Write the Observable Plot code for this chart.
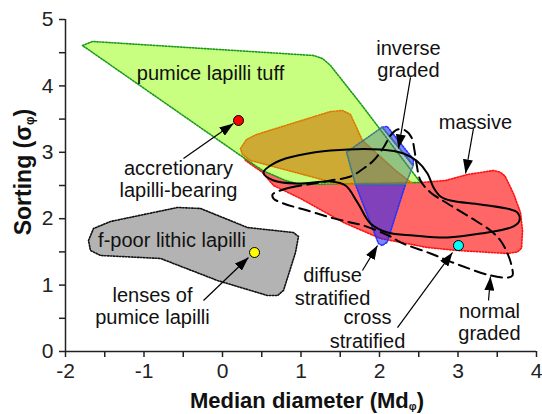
<!DOCTYPE html>
<html><head><meta charset="utf-8">
<script src="https://cdn.jsdelivr.net/npm/d3@7"></script>
<script src="https://cdn.jsdelivr.net/npm/@observablehq/plot@0.6"></script>
<style>body{margin:0;background:#fff}</style>
</head><body><div id="chart"></div>
<script>
// ---- tick values ----
const xTicks = [-2,-1.5,-1,-0.5,0,0.5,1,1.5,2,2.5,3,3.5,4];
const yTicks = [0,0.5,1,1.5,2,2.5,3,3.5,4,4.5,5];

// ---- fields (Md, sigma) ----
const massiveField = [[0.268,2.937],[2.522,2.545],[2.841,2.575],[3.121,2.666],[3.452,2.726],[3.540,2.700],[3.600,2.640],[3.707,2.380],[3.796,2.093],[3.822,1.822],[3.810,1.560],[3.760,1.500],[3.631,1.476],[2.994,1.521],[2.611,1.566],[2.013,1.702],[1.541,1.943],[0.994,2.304],[0.650,2.500],[0.510,2.696],[0.293,2.877]];
const lithicField = [[-1.707,1.672],[-1.643,1.852],[-1.427,1.958],[-0.573,2.169],[-0.280,2.154],[0.318,1.867],[0.904,1.792],[0.968,1.732],[0.930,1.491],[0.777,0.919],[0.701,0.843],[0.573,0.843],[-0.064,1.069],[-0.790,1.401],[-1.554,1.446],[-1.682,1.521]];
const tuffField = [[-1.783,4.608],[-1.656,4.669],[1.159,4.458],[1.274,4.413],[1.376,4.307],[1.758,3.735],[2.522,2.545],[0.994,2.515],[0.803,2.575],[0.510,2.726],[0.229,2.952]];
const accretionaryField = [[0.229,3.057],[0.306,3.193],[0.433,3.268],[1.376,3.614],[1.529,3.630],[1.631,3.569],[1.783,3.178],[2.204,2.726],[2.420,2.530],[1.503,2.515],[0.357,2.877],[0.255,2.967]];
const diffuseSliver = [[2.034,3.378],[2.098,3.389],[2.433,2.892],[2.429,2.801]];
const diffuseWedge = [[1.694,2.515],[2.331,2.515],[2.225,2.123],[2.098,1.646],[2.034,1.596],[1.987,1.627]];
const inverseField = [[2.034,3.378],[2.429,2.801],[2.331,2.515],[1.694,2.515],[1.580,3.001]];

// ---- envelopes ----
const crossEnvelope = [[0.522,2.696],[0.611,2.801],[0.803,2.907],[0.955,2.952],[1.376,3.027],[2.013,3.042],[2.306,2.982],[2.484,2.861],[2.611,2.681],[2.688,2.470],[2.777,2.334],[2.904,2.274],[3.287,2.214],[3.669,2.139],[3.758,2.093],[3.783,1.973],[3.707,1.883],[3.287,1.777],[2.866,1.717],[2.433,1.747],[2.102,1.792],[1.885,1.928],[1.720,2.244],[1.567,2.500],[1.376,2.560],[0.955,2.530],[0.650,2.575]];
const gradedEnvelope = [[0.675,2.395],[0.866,2.470],[1.159,2.530],[1.376,2.575],[1.631,2.636],[1.796,2.756],[1.924,2.876],[2.051,3.072],[2.140,3.253],[2.229,3.343],[2.331,3.328],[2.408,3.223],[2.446,3.027],[2.471,2.831],[2.522,2.575],[2.650,2.395],[2.866,2.229],[3.159,2.018],[3.414,1.822],[3.541,1.672],[3.631,1.476],[3.682,1.295],[3.694,1.145],[3.643,1.114],[3.414,1.145],[3.032,1.295],[2.650,1.476],[2.268,1.642],[2.140,1.732],[1.796,1.898],[1.631,1.943],[1.376,2.018],[1.083,2.123],[0.777,2.229],[0.650,2.304],[0.637,2.364]];

// ---- sample points ----
const pointX = [0.204, 0.408, 3.006];
const pointY = [3.479, 1.491, 1.596];
const pointFill = ["#ff0000", "#ffff00", "#00ffff"];

// ---- labels ----
const labelText = ["pumice lapilli tuff","accretionary","lapilli-bearing","f-poor lithic lapilli","lenses of","pumice lapilli","diffuse","stratified","cross","stratified","normal","graded","massive","inverse","graded"];
const labelX = [-0.153,-0.561,-0.561,-0.643,-0.892,-0.892,1.401,1.401,1.847,1.847,3.401,3.401,3.223,2.369,2.369];
const labelY = [4.187,2.756,2.425,1.672,0.843,0.512,1.145,0.798,0.512,0.151,0.602,0.271,3.449,4.563,4.232];

// ---- arrows ----
const arrowX1 = [-0.497,-0.242,1.783,2.229,3.389,3.197,2.395];
const arrowY1 = [2.907,0.768,1.220,0.361,0.768,3.358,4.127];
const arrowX2 = [0.140,0.331,1.975,2.930,3.414,3.096,2.242];
const arrowY2 = [3.433,1.416,1.596,1.491,1.130,2.681,3.057];

const pts = pointX.map((x,i)=>({x, y: pointY[i], f: pointFill[i]}));
const labels = labelText.map((t,i)=>({t, x: labelX[i], y: labelY[i]}));
const arrows = arrowX1.map((x1,i)=>({x1, y1: arrowY1[i], x2: arrowX2[i], y2: arrowY2[i]}));
const wedge = [...diffuseSliver.map(d=>({x:d[0],y:d[1],z:"a"})), ...diffuseWedge.map(d=>({x:d[0],y:d[1],z:"b"}))];

const X = d=>d[0], Y = d=>d[1];
const dots = "1.4 1.6";

const chart = Plot.plot({
  width: 542, height: 414,
  marginLeft: 65, marginRight: 6, marginTop: 19, marginBottom: 63,
  style: {fontFamily: "'Liberation Sans', Arial, sans-serif", background: "#fff", color: "#222"},
  x: {domain: [-2, 4], axis: null},
  y: {domain: [0, 5], axis: null},
  marks: [
    Plot.line(massiveField, {x: X, y: Y, curve: "linear-closed", fill: "#ff6666", stroke: "#ff1111", strokeWidth: 1.6, strokeDasharray: dots}),
    Plot.line(lithicField, {x: X, y: Y, curve: "linear-closed", fill: "#b3b3b3", stroke: "#111", strokeWidth: 1.6, strokeDasharray: dots}),
    Plot.line(tuffField, {x: X, y: Y, curve: "linear-closed", fill: "#c8ff80", stroke: "#1a9a1a", strokeWidth: 1.6, strokeDasharray: dots}),
    Plot.line(accretionaryField, {x: X, y: Y, curve: "linear-closed", fill: "#cf7100", fillOpacity: 0.6, stroke: "#dd7a00", strokeWidth: 1.6, strokeDasharray: dots}),
    Plot.line(wedge, {x: "x", y: "y", z: "z", curve: "linear-closed", fill: "#1a22ff", fillOpacity: 0.55, stroke: "#2233ff", strokeWidth: 1.6, strokeDasharray: dots}),
    Plot.line(inverseField, {x: X, y: Y, curve: "linear-closed", fill: "#507d82", fillOpacity: 0.45, stroke: "#3a7a8a", strokeWidth: 1.6, strokeDasharray: dots}),
    Plot.line(crossEnvelope, {x: X, y: Y, curve: "catmull-rom-closed", stroke: "#000", strokeWidth: 2}),
    Plot.line(gradedEnvelope, {x: X, y: Y, curve: "catmull-rom-closed", stroke: "#000", strokeWidth: 2, strokeDasharray: "11 6"}),
    Plot.ruleY([0], {stroke: "#222", strokeWidth: 1.5}),
    Plot.ruleX([-2], {stroke: "#222", strokeWidth: 1.5}),
    Plot.axisX({ticks: xTicks, tickFormat: d => Number.isInteger(d) ? String(d) : "", tickSize: 6, tickPadding: 6, fontSize: 21, strokeWidth: 1.5, label: null}),
    Plot.axisY({ticks: yTicks, tickFormat: d => Number.isInteger(d) ? String(d) : "", tickSize: 6, tickPadding: 6, fontSize: 21, strokeWidth: 1.5, label: null}),
    Plot.link(arrows, {x1: "x1", y1: "y1", x2: "x2", y2: "y2", stroke: "#000", strokeWidth: 1.2}),
    Plot.dot(pts, {x: "x", y: "y", r: 5, fill: "f", stroke: "#000", strokeWidth: 1}),
    Plot.text(labels, {x: "x", y: "y", text: "t", fontSize: 20, fill: "#111"})
  ]
});
document.getElementById("chart").appendChild(chart);

const svg = d3.select(chart);
const defs = svg.insert("defs", ":first-child");
defs.append("marker").attr("id", "ah").attr("viewBox", "0 0 14 10")
  .attr("refX", 14).attr("refY", 5).attr("markerWidth", 14).attr("markerHeight", 10)
  .attr("markerUnits", "userSpaceOnUse").attr("orient", "auto")
  .append("path").attr("d", "M0,0L14,5L0,10Z").attr("fill", "#000");
svg.selectAll('g[aria-label="link"] path').attr("marker-end", "url(#ah)");

// axis titles
const xt = svg.append("text").attr("x", 307).attr("y", 408).attr("text-anchor", "middle")
  .attr("font-size", 22).attr("font-weight", "bold").attr("fill", "#111");
xt.append("tspan").text("Median diameter (Md");
xt.append("tspan").attr("font-size", 11).attr("dy", 2).text("φ");
xt.append("tspan").attr("dy", -2).text(")");
const yt = svg.append("text").attr("transform", "translate(31,172) rotate(-90)").attr("text-anchor", "middle")
  .attr("font-size", 23).attr("font-weight", "bold").attr("fill", "#111");
yt.append("tspan").text("Sorting (σ");
yt.append("tspan").attr("font-size", 12).attr("dy", 3).text("φ");
yt.append("tspan").attr("dy", -3).text(")");
</script>
</body></html>
